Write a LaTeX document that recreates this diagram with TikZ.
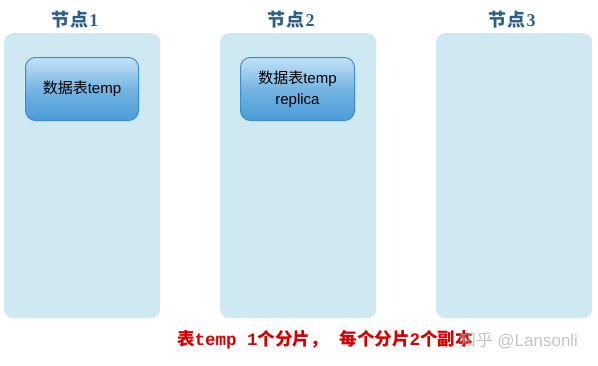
\documentclass[tikz,border=0pt]{standalone}
\usepackage{fontspec}
\setmainfont{Liberation Serif}
\newfontfamily\cjk{Noto Sans CJK SC}
\newfontfamily\arialish{Liberation Sans}
\newfontfamily\monoish{Liberation Mono}
\definecolor{panelblue}{HTML}{CFE9F3}
\definecolor{titleblue}{HTML}{2F5F86}
\definecolor{boxtop}{HTML}{C4E3F7}
\definecolor{boxbottom}{HTML}{4A9BD8}
\definecolor{boxedge}{HTML}{3C8DCB}
\definecolor{notered}{HTML}{D60000}
\begin{document}
\begin{tikzpicture}[x=1pt,y=-1pt,
  serverpanel/.style={rectangle, rounded corners=9pt, fill=panelblue, draw=none,
    minimum width=156pt, minimum height=285pt, anchor=north west, inner sep=0pt},
  paneltitle/.style={text=titleblue, font=\fontsize{18}{20}\selectfont\bfseries},
  shardbox/.style={rectangle, rounded corners=10pt, draw=boxedge, line width=1pt,
    top color=boxtop, bottom color=boxbottom, middle color=boxbottom!65!boxtop,
    minimum width=113pt, minimum height=63pt, anchor=north west, inner sep=0pt,
    align=center, font=\fontsize{15}{21}\selectfont},
  notetext/.style={text=notered, font=\fontsize{17.5}{19}\selectfont\bfseries},
  wmtext/.style={text=black!30, opacity=0.75, font=\fontsize{17}{19}\selectfont}
]
\useasboundingbox (0,0) rectangle (598,365);
\fill[white] (0,0) rectangle (598,365);

% server panels
\node[serverpanel] (p1) at (4,33) {};
\node[serverpanel] (p2) at (220,33) {};
\node[serverpanel] (p3) at (436,33) {};

% panel titles
\node[paneltitle] (t1) at (75,20) {{\cjk\bfseries 节\kern1pt 点}\kern1pt 1};
\node[paneltitle] (t2) at (291,20) {{\cjk\bfseries 节\kern1pt 点}\kern1pt 2};
\node[paneltitle] (t3) at (512,20) {{\cjk\bfseries 节\kern1pt 点}\kern1pt 3};

% shards
\node[shardbox] (s1) at (25,57) {{\cjk 数据表}{\arialish temp}};
\node[shardbox, minimum width=114pt] (s2) at (240,57)
  {{\cjk 数据表}{\arialish temp}\\{\arialish replica}};

% caption
\node[notetext, anchor=west, inner sep=0pt] (cap) at (177,340)
  {{\cjk\bfseries 表}{\monoish\bfseries temp 1}{\cjk\bfseries 个分片，}\kern12pt{\cjk\bfseries 每个分片}{\monoish\bfseries 2}{\cjk\bfseries 个副本}};
\node[wmtext, anchor=west, inner sep=0pt] (wm) at (459,341) {{\cjk 知乎} {\arialish @Lansonli}};
\end{tikzpicture}
\end{document}
